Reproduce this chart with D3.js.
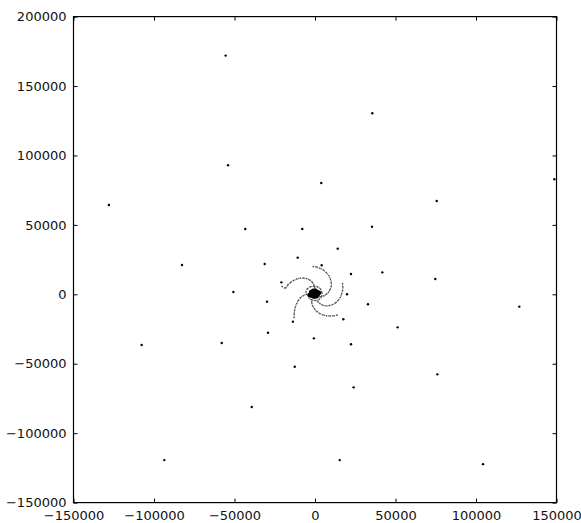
<!DOCTYPE html>
<html>
<head>
<meta charset="utf-8">
<script src="https://cdn.jsdelivr.net/npm/d3@7"></script>
<style>
  body { margin: 0; background: #fff; }
  text { font-family: "DejaVu Sans", sans-serif; }
</style>
</head>
<body>
<div class="plot"></div>
<script>
// scattered stars, [x, y]
const outerPoints = [
  [-55500, 171900], [-54000, 92900], [-128000, 64300], [-43300, 47000],
  [-7900, 47000], [-10750, 26400], [35600, 130400], [3900, 80200],
  [148650, 82850], [75600, 67200], [35400, 48700], [14100, 32900],
  [-82600, 21100], [-31250, 21800], [-20900, 8600], [-50700, 1650],
  [-29800, -5300], [-13700, -19700], [-29200, -27650], [-700, -31700],
  [-107650, -36500], [-57950, -35100], [-12600, -52150], [-39300, -81200],
  [-93600, -119400], [4150, 20900], [22350, 14600], [41800, 15800],
  [74700, 11000], [19900, 0], [32900, -7200], [126900, -8900],
  [17600, -18000], [51350, -23800], [22350, -36000], [76000, -57650],
  [24000, -67000], [15350, -119400], [104350, -122300]
];

// spiral arms
const armA = [
  [-1200, 20000], [900, 19700], [3100, 18700], [5300, 17400], [7100, 15500],
  [8600, 13300], [9600, 10900], [10100, 8300], [10100, 5800], [9400, 3500],
  [8400, 1500], [7000, 0], [5500, -1100], [3700, -1700], [2200, -1800]
];
const armB = [
  [-20500, 5600], [-18300, 4500], [-16900, 6700], [-15200, 8500], [-13400, 9900],
  [-11300, 11000], [-9200, 11600], [-7100, 11700], [-5100, 11300], [-3200, 10300],
  [-1700, 8700], [-700, 6700], [-200, 4500], [-200, 2400]
];
const armC = [
  [-13000, -16700], [-12900, -14200], [-12700, -11700], [-12200, -9200],
  [-11400, -6700], [-10400, -4500], [-9000, -2500], [-7300, -1000],
  [-5400, 0], [-3400, 400], [-1600, 400]
];
const armD = [
  [13700, -14900], [11500, -15500], [9300, -15600], [7100, -15400],
  [5000, -14800], [3000, -13800], [1200, -12400], [-200, -10600],
  [-1400, -8400], [-2000, -6100], [-2100, -3800]
];
const armE = [
  [17100, 7800], [17300, 5300], [17100, 2700], [16500, 200], [15700, -2200],
  [14400, -4300], [12800, -6100], [10900, -7400], [8900, -8100], [6800, -8300],
  [4800, -7800], [3100, -6700], [1700, -5200]
];
const innerRing = [
  [-5600, 1700], [-4700, 4000], [-2800, 5400], [-600, 5800], [1600, 5300],
  [3400, 3800], [4300, 1300], [4000, -1600], [2500, -3700], [300, -4500],
  [-1900, -4100], [-3700, -2700]
];
const core = [
  [-2500, 1700], [-1200, 2700], [300, 2700], [1600, 1700], [1900, -100],
  [900, -1600], [-600, -1900], [-2200, -1200], [-2800, 200], [-1200, 600],
  [300, 600], [-300, -900], [-3500, -600], [2600, 1000]
];

const xTicks = [-150000, -100000, -50000, 0, 50000, 100000, 150000];
const yTicks = [-150000, -100000, -50000, 0, 50000, 100000, 150000, 200000];

const width = 581;
const height = 523;
const m = { left: 73.5, right: 556.5, top: 16.6, bottom: 502.6 };

const svg = d3.select('.plot')
  .append('svg')
  .attr('width', width)
  .attr('height', height)

const x = d3.scaleLinear().domain([-150000, 150000]).range([m.left, m.right]);
const y = d3.scaleLinear().domain([-150000, 200000]).range([m.bottom, m.top]);

const fmt = d3.format("d");

const armLine = d3.line()
  .x(d => x(d[0]))
  .y(d => y(d[1]))
  .curve(d3.curveCatmullRom);

// spiral arms: dense grey dots
const arms = [armA, armB, armC, armD, armE, innerRing];
arms.forEach(arm => {
  svg.append('path')
    .attr('d', armLine(arm))
    .attr('fill', 'none')
    .attr('stroke', '#666')
    .attr('stroke-width', 1.3)
    .attr('stroke-dasharray', '1.2 0.8');

  svg.append('g')
    .selectAll('circle')
    .data(arm)
    .enter()
    .append('circle')
    .attr('cx', d => x(d[0]))
    .attr('cy', d => y(d[1]))
    .attr('r', 0.7)
    .attr('fill', '#444');
});

svg.append('g')
  .selectAll('circle')
  .data(core)
  .enter()
  .append('circle')
  .attr('cx', d => x(d[0]))
  .attr('cy', d => y(d[1]))
  .attr('r', 2.1)
  .attr('fill', '#000');

svg.append('g')
  .selectAll('circle')
  .data(outerPoints)
  .enter()
  .append('circle')
  .attr('cx', d => x(d[0]))
  .attr('cy', d => y(d[1]))
  .attr('r', 1.2)
  .attr('fill', '#000');

// axes, matplotlib classic: ticks inward on all four sides
const axisStyle = g => {
  g.select('.domain').remove();
  g.selectAll('.tick line').attr('stroke', '#000');
  g.selectAll('.tick text').attr('fill', '#111').attr('font-size', '13px');
};

svg.append('g')
  .attr('transform', `translate(0,${m.bottom})`)
  .call(d3.axisBottom(x).tickValues(xTicks).tickFormat(fmt).tickSizeInner(-4).tickSizeOuter(0).tickPadding(8))
  .call(axisStyle);

svg.append('g')
  .attr('transform', `translate(0,${m.top})`)
  .call(d3.axisTop(x).tickValues(xTicks).tickFormat('').tickSizeInner(-4).tickSizeOuter(0))
  .call(axisStyle);

svg.append('g')
  .attr('transform', `translate(${m.left},0)`)
  .call(d3.axisLeft(y).tickValues(yTicks).tickFormat(fmt).tickSizeInner(-4).tickSizeOuter(0).tickPadding(7))
  .call(axisStyle);

svg.append('g')
  .attr('transform', `translate(${m.right},0)`)
  .call(d3.axisRight(y).tickValues(yTicks).tickFormat('').tickSizeInner(-4).tickSizeOuter(0))
  .call(axisStyle);

svg.append('rect')
  .attr('x', m.left)
  .attr('y', m.top)
  .attr('width', m.right - m.left)
  .attr('height', m.bottom - m.top)
  .attr('fill', 'none')
  .attr('stroke', '#000')
  .attr('stroke-width', 1.2);
</script>
</body>
</html>
